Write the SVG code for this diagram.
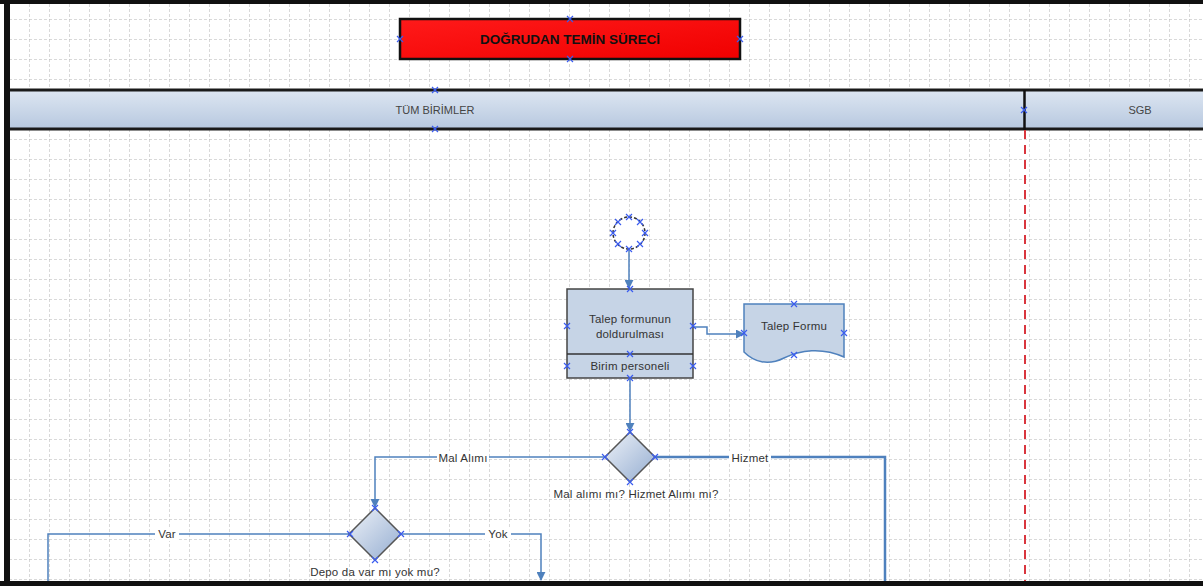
<svg xmlns="http://www.w3.org/2000/svg" width="1203" height="586" viewBox="0 0 1203 586">
<style>
.lbl{font-family:"Liberation Sans",Arial,sans-serif;font-size:11.5px;letter-spacing:0.2px;fill:#333;text-anchor:middle;dominant-baseline:central}
.hdr{font-family:"Liberation Sans",Arial,sans-serif;font-size:11px;fill:#444;text-anchor:middle;dominant-baseline:central}
.conn{fill:none;stroke:#4f81bd;stroke-width:1.5}
.shape{fill:#c6d4e6;stroke:#444;stroke-width:1.5}
.cp{stroke:#3a5cf0;stroke-width:1.2;fill:none}
</style>
<defs>
<pattern id="grid" patternUnits="userSpaceOnUse" x="9" y="19" width="20" height="20">
<line x1="0" y1="0" x2="20" y2="0" stroke="#b4b4b4" stroke-width="1" stroke-dasharray="3,2"/>
<line x1="0" y1="0" x2="0" y2="20" stroke="#b4b4b4" stroke-width="1" stroke-dasharray="3,2"/>
</pattern>
<linearGradient id="hg" x1="0" y1="0" x2="0" y2="1">
<stop offset="0" stop-color="#dde6f2"/><stop offset="1" stop-color="#b7c8df"/>
</linearGradient>
<linearGradient id="rg" x1="0" y1="0" x2="1" y2="1">
<stop offset="0" stop-color="#ff1a1a"/><stop offset="1" stop-color="#f00000"/>
</linearGradient>
<linearGradient id="dg" x1="0" y1="0" x2="1" y2="1">
<stop offset="0" stop-color="#eef2f8"/><stop offset="1" stop-color="#94add1"/>
</linearGradient>
<marker id="arr" viewBox="0 0 10 10" refX="9" refY="5" markerWidth="9" markerHeight="9" markerUnits="userSpaceOnUse" orient="auto">
<path d="M0,0 L10,5 L0,10 Z" fill="#4f81bd"/>
</marker>
<path id="x" d="M-3,-3 L3,3 M-3,3 L3,-3" class="cp"/>
</defs>
<rect width="1203" height="586" fill="#fff"/>
<rect x="9" y="4" width="1194" height="577" fill="url(#grid)"/>
<rect x="0" y="0" width="1203" height="4" fill="#111"/>
<rect x="4" y="0" width="6" height="586" fill="#111"/>
<rect x="0" y="581" width="1203" height="5" fill="#111"/>

<g id="title">
<rect x="400" y="19" width="340" height="40" fill="url(#rg)" stroke="#111" stroke-width="2.5"/>
<text x="570" y="39" class="lbl" style="font-weight:bold;font-size:13.5px;letter-spacing:0;fill:#111">DOĞRUDAN TEMİN SÜRECİ</text>
<use href="#x" x="570" y="19"/><use href="#x" x="570" y="59"/><use href="#x" x="400" y="39"/><use href="#x" x="740" y="39"/>
</g>

<g id="lane-tum">
<rect x="10" y="90" width="1014" height="39" fill="url(#hg)"/>
<text x="435" y="110" class="hdr">TÜM BİRİMLER</text>
</g>
<g id="lane-sgb">
<rect x="1024" y="90" width="179" height="39" fill="url(#hg)"/>
<text x="1140" y="110" class="hdr">SGB</text>
</g>
<line x1="10" y1="90" x2="1203" y2="90" stroke="#1a1a1a" stroke-width="3"/>
<line x1="10" y1="129" x2="1203" y2="129" stroke="#1a1a1a" stroke-width="3"/>
<line x1="1024.5" y1="90" x2="1024.5" y2="130" stroke="#111" stroke-width="2.5"/>
<line x1="1025" y1="130" x2="1025" y2="581" stroke="#d9363e" stroke-width="2" stroke-dasharray="9,6"/>
<use href="#x" x="435" y="90"/><use href="#x" x="435" y="129"/><use href="#x" x="1024" y="110"/>

<g id="connectors">
<path class="conn" d="M629,250 V288" marker-end="url(#arr)"/>
<path class="conn" d="M693,327 H707 V334 H744" marker-end="url(#arr)"/>
<path class="conn" d="M630,378 V431" marker-end="url(#arr)"/>
<path class="conn" d="M605,457 H375 V507" marker-end="url(#arr)"/>
<path class="conn" d="M655,457 H885 V581" style="stroke-width:2.5"/>
<path class="conn" d="M350,534 H48 V581"/>
<path class="conn" d="M401,534 H541 V580" marker-end="url(#arr)"/>
<rect x="437" y="451" width="52" height="13" fill="#fff"/>
<text x="463" y="458" class="lbl">Mal Alımı</text>
<rect x="729" y="451" width="42" height="13" fill="#fff"/>
<text x="750" y="458" class="lbl">Hizmet</text>
<rect x="155" y="528" width="24" height="13" fill="#fff"/>
<text x="167" y="534" class="lbl">Var</text>
<rect x="485" y="528" width="26" height="13" fill="#fff"/>
<text x="498" y="534" class="lbl">Yok</text>
</g>

<g id="start">
<circle cx="629" cy="233" r="16" fill="#fff" stroke="#333" stroke-width="1.5" stroke-dasharray="3,2"/>
<use href="#x" x="629" y="217"/><use href="#x" x="629" y="249"/><use href="#x" x="613" y="233"/><use href="#x" x="645" y="233"/>
<use href="#x" x="618" y="222"/><use href="#x" x="640" y="222"/><use href="#x" x="618" y="244"/><use href="#x" x="640" y="244"/>
</g>

<g id="task">
<rect x="567" y="289" width="126" height="89" class="shape"/>
<line x1="567" y1="354" x2="693" y2="354" stroke="#333" stroke-width="1.5"/>
<text x="630" y="319" class="lbl">Talep formunun</text>
<text x="630" y="334" class="lbl">doldurulması</text>
<text x="630" y="366" class="lbl">Birim personeli</text>
<use href="#x" x="630" y="289"/><use href="#x" x="567" y="326"/><use href="#x" x="693" y="326"/><use href="#x" x="630" y="354"/>
<use href="#x" x="567" y="366"/><use href="#x" x="693" y="366"/><use href="#x" x="630" y="378"/>
</g>

<g id="doc">
<path d="M744,304 H844 V357 C822,347 800,350 784,358 C768,366 754,362 744,352 Z" fill="#c6d4e6" stroke="#4f81bd" stroke-width="1.5"/>
<text x="794" y="326" class="lbl">Talep Formu</text>
<use href="#x" x="794" y="304"/><use href="#x" x="744" y="333"/><use href="#x" x="844" y="333"/><use href="#x" x="794" y="355"/>
</g>

<g id="decision1">
<path d="M630,432 L655,457 L630,482 L605,457 Z" fill="url(#dg)" stroke="#555" stroke-width="1.5"/>
<text x="636" y="494" class="lbl">Mal alımı mı? Hizmet Alımı mı?</text>
<use href="#x" x="630" y="432"/><use href="#x" x="630" y="482"/><use href="#x" x="605" y="457"/><use href="#x" x="655" y="457"/>
</g>

<g id="decision2">
<path d="M375,508 L401,534 L375,560 L349,534 Z" fill="url(#dg)" stroke="#555" stroke-width="1.5"/>
<text x="375" y="572" class="lbl">Depo da var mı yok mu?</text>
<use href="#x" x="375" y="508"/><use href="#x" x="375" y="560"/><use href="#x" x="350" y="534"/><use href="#x" x="401" y="534"/>
</g>
</svg>
